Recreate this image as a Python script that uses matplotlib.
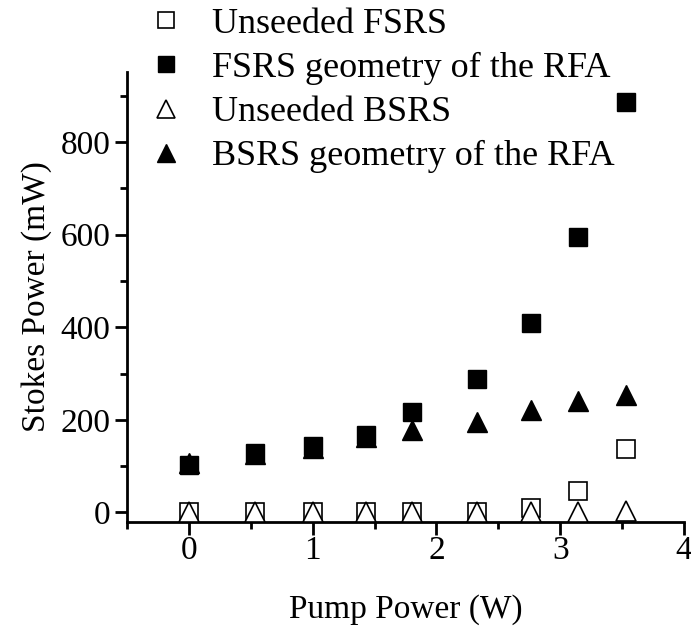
import matplotlib
matplotlib.use("Agg")
import matplotlib.pyplot as plt
from matplotlib.ticker import MultipleLocator

plt.rcParams['font.family'] = ['Liberation Serif', 'DejaVu Serif']

# Pump power (W)
pump = [0.0, 0.53, 1.0, 1.43, 1.8, 2.33, 2.76, 3.14, 3.53]
# Stokes power (mW)
unseeded_fsrs = [2, 2, 2, 2, 2, 2, 9, 46, 137]
fsrs_rfa = [103, 129, 143, 167, 216, 288, 409, 594, 886]
unseeded_bsrs = [0, 0, 0, 0, 0, 0, 1, 2, 4]
bsrs_rfa = [106, 126, 140, 162, 178, 196, 221, 240, 253]

labels = ["Unseeded FSRS", "FSRS geometry of the RFA",
          "Unseeded BSRS", "BSRS geometry of the RFA"]

fig = plt.figure(figsize=(6.91, 6.29), dpi=100)
ax = fig.add_axes([0.1838, 0.1706, 0.8062, 0.7154])

h1, = ax.plot(pump, unseeded_fsrs, linestyle='none', marker='s', ms=13,
              mfc='white', mec='black', mew=1.2, zorder=3)
h2, = ax.plot(pump, fsrs_rfa, linestyle='none', marker='s', ms=13,
              mfc='black', mec='black', mew=1.0, zorder=2)
h3, = ax.plot(pump, unseeded_bsrs, linestyle='none', marker='^', ms=14.5,
              mfc='white', mec='black', mew=1.2, zorder=4)
h4, = ax.plot(pump, bsrs_rfa, linestyle='none', marker='^', ms=14.5,
              mfc='black', mec='black', mew=1.0, zorder=2.5)

ax.set_xlim(-0.5, 4)
ax.set_ylim(-20, 952)
ax.xaxis.set_major_locator(MultipleLocator(1))
ax.xaxis.set_minor_locator(MultipleLocator(0.5))
ax.yaxis.set_major_locator(MultipleLocator(200))
ax.yaxis.set_minor_locator(MultipleLocator(100))

for side in ('top', 'right'):
    ax.spines[side].set_visible(False)
for side in ('left', 'bottom'):
    ax.spines[side].set_linewidth(2)

ax.tick_params(which='major', direction='out', length=9, width=2,
               labelsize=24, pad=3)
ax.tick_params(axis='x', which='major', pad=1)
ax.tick_params(which='minor', direction='out', length=5, width=2)

ax.set_xlabel("Pump Power (W)", fontsize=24, labelpad=20)
ax.set_ylabel("Stokes Power (mW)", fontsize=24, labelpad=6)

fig.legend([h1, h2, h3, h4], labels, loc='upper left',
           bbox_to_anchor=(0.177, 1.028), frameon=False, fontsize=26,
           handlelength=1.0, handletextpad=0.78, labelspacing=0.3,
           borderpad=0.2, markerscale=0.9)

fig.savefig("out.png", dpi=100)
